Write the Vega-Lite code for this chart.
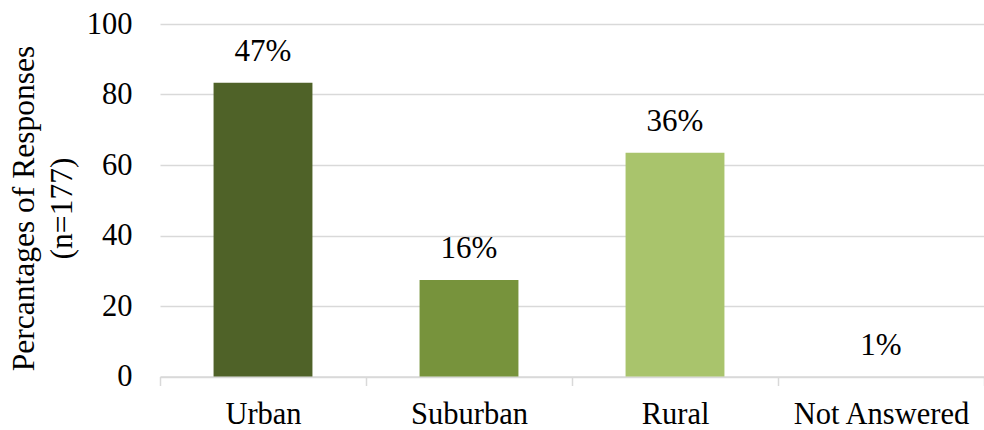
{
  "$schema": "https://vega.github.io/schema/vega-lite/v6.json",
  "autosize": {"type": "none"},
  "padding": {"left": 160, "top": 24, "right": 0, "bottom": 53.5},
  "width": 824,
  "height": 352.5,
  "background": "white",
  "config": {
    "view": {"stroke": null},
    "font": "Liberation Serif"
  },
  "data": {
    "values": [
      {"area": "Urban", "count": 83.3, "pct": "47%"},
      {"area": "Suburban", "count": 27.4, "pct": "16%"},
      {"area": "Rural", "count": 63.5, "pct": "36%"},
      {"area": "Not Answered", "count": 0, "pct": "1%"}
    ]
  },
  "encoding": {
    "x": {
      "field": "area",
      "type": "nominal",
      "sort": null,
      "scale": {"paddingInner": 0, "paddingOuter": 0},
      "axis": {
        "title": null,
        "labelAngle": 0,
        "labelFont": "Liberation Serif",
        "labelFontSize": 30.5,
        "labelColor": "black",
        "labelPadding": 14,
        "tickBand": "extent",
        "tickSize": 9,
        "tickWidth": 1.5,
        "tickColor": "#d9d9d9",
        "domainColor": "#d9d9d9",
        "domainWidth": 1.5,
        "grid": false
      }
    },
    "y": {
      "field": "count",
      "type": "quantitative",
      "scale": {"domain": [0, 100], "nice": false},
      "axis": {
        "values": [0, 20, 40, 60, 80, 100],
        "title": ["Percantages of Responses", "(n=177)"],
        "titleFont": "Liberation Serif",
        "titleFontSize": 31.5,
        "titleFontWeight": "normal",
        "titleColor": "black",
        "titleLineHeight": 38,
        "titlePadding": 8,
        "titleY": 184,
        "labelFont": "Liberation Serif",
        "labelFontSize": 30.5,
        "labelColor": "black",
        "labelPadding": 28,
        "domain": false,
        "ticks": false,
        "grid": true,
        "gridColor": "#d9d9d9",
        "gridWidth": 1.5
      }
    }
  },
  "layer": [
    {
      "mark": {"type": "bar", "width": {"band": 0.48}},
      "encoding": {
        "color": {
          "field": "area",
          "type": "nominal",
          "sort": null,
          "scale": {
            "domain": ["Urban", "Suburban", "Rural", "Not Answered"],
            "range": ["#4f6228", "#77933c", "#a9c46c", "#c3d69b"]
          },
          "legend": null
        }
      }
    },
    {
      "mark": {
        "type": "text",
        "dy": -31,
        "baseline": "middle",
        "fontSize": 31,
        "font": "Liberation Serif",
        "color": "black"
      },
      "encoding": {
        "text": {"field": "pct", "type": "nominal"}
      }
    }
  ]
}
